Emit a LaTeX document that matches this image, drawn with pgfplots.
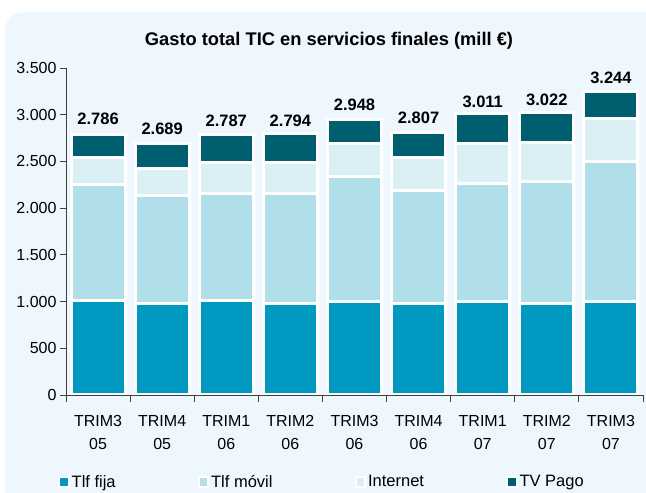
\documentclass[border=0pt]{standalone}
\usepackage{fontspec}
\setmainfont{Liberation Sans}
\usepackage{pgfplots}
\pgfplotsset{compat=1.18}
\definecolor{cFija}{HTML}{0099C2}
\definecolor{cMovil}{HTML}{B0DFE9}
\definecolor{cInternet}{HTML}{DBF0F4}
\definecolor{cTV}{HTML}{005F6E}
\definecolor{cBg}{HTML}{EEF6FE}
\definecolor{cAxis}{HTML}{404040}
\begin{document}
\begin{tikzpicture}
\useasboundingbox (0,0) rectangle (646bp,493bp);
\begin{scope}
\clip (0,0) rectangle (646bp,493bp);
\fill[cBg, rounded corners=18bp] (5bp,-20bp) rectangle (662bp,480.7bp);
\end{scope}
\node[anchor=base, font=\fontsize{18.3bp}{20bp}\selectfont\bfseries] at (329bp,447bp) {Gasto total TIC en servicios finales (mill €)};
\begin{axis}[
  at={(66bp,98bp)}, anchor=south west,
  scale only axis, width=577bp, height=327bp,
  xmin=-0.5, xmax=8.5, ymin=0, ymax=3500,
  axis lines=left,
  axis line style={-, draw=cAxis, line width=0.9bp},
  axis on top,
  ybar stacked, bar width=54bp,
  ytick={0,500,...,3500},
  tick align=outside,
  major tick length=6bp, minor tick length=7bp,
  tick style={draw=cAxis, line width=0.9bp},
  xtick={0,...,8},
  minor xtick={-0.5,0.5,...,8.5},
  major x tick style={draw=none},
  xticklabels={{TRIM3\\05},{TRIM4\\05},{TRIM1\\06},{TRIM2\\06},{TRIM3\\06},{TRIM4\\06},{TRIM1\\07},{TRIM2\\07},{TRIM3\\07}},
  xticklabel style={align=center, font=\fontsize{16bp}{22.5bp}\selectfont, anchor=north, inner sep=0pt, yshift=-14.5bp},
  yticklabel style={font=\fontsize{16bp}{18bp}\selectfont},
  /pgf/number format/.cd, 1000 sep={.}, assume math mode=true,
  /pgfplots/.cd,
  legend columns=4,
  legend style={at={(-0.0139,-0.266)}, anchor=west, draw=none, fill=none, inner sep=0pt,
    font=\fontsize{16.5bp}{18bp}\selectfont,
    /tikz/every even column/.append style={column sep=80bp}},
  legend image code/.code={\draw[#1, line width=2bp] (0bp,-4.75bp) rectangle (9.5bp,4.75bp);},
]
\addplot[fill=cFija, draw=white, line width=3bp] coordinates {(0,1010) (1,982) (2,1014) (3,982) (4,996) (5,978) (6,1004) (7,978) (8,1004)};
\addplot[fill=cMovil, draw=white, line width=3bp] coordinates {(0,1243) (1,1153) (2,1139) (3,1171) (4,1340) (5,1208) (6,1264) (7,1307) (8,1492)};
\addplot[fill=cInternet, draw=white, line width=3bp] coordinates {(0,286) (1,286) (2,336) (3,336) (4,353) (5,353) (6,421) (7,422) (8,461)};
\addplot[fill=cTV, draw=white, line width=3bp, nodes near coords, point meta=explicit symbolic,
  nodes near coords style={text=black, font=\fontsize{16.5bp}{18bp}\selectfont\bfseries, anchor=south, inner sep=0pt, yshift=20bp}]
  coordinates {(0,247) [2.786] (1,268) [2.689] (2,298) [2.787] (3,305) [2.794] (4,259) [2.948] (5,268) [2.807] (6,322) [3.011] (7,315) [3.022] (8,287) [3.244]};
\legend{Tlf fija, Tlf móvil, Internet, TV Pago}
\end{axis}
\end{tikzpicture}
\end{document}
